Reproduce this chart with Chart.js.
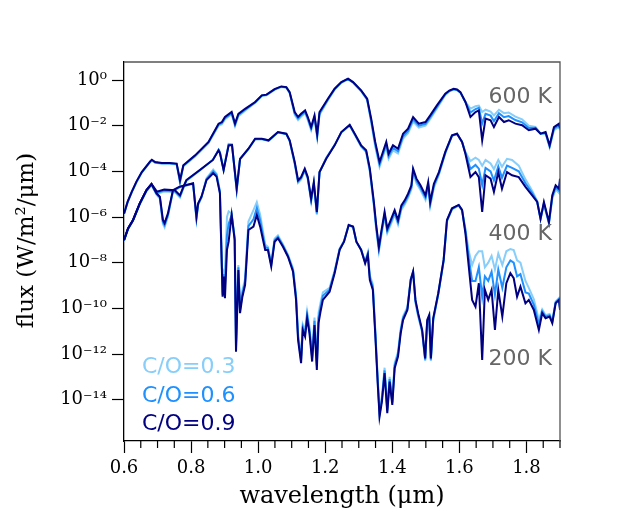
<!DOCTYPE html>
<html lang="en">
<head>
  <meta charset="UTF-8">
  <title>Model spectra</title>
  <script src="https://cdn.jsdelivr.net/npm/chart.js"></script>
  <style>
    body { margin: 0; background: #fff; }
    canvas { display: block; }
  </style>
</head>
<body>
  <canvas id="spectraChart" width="623" height="519"></canvas>

  <script>
    // wavelength grids (micron), one per temperature
    const wave600 = [0.600,0.611,0.623,0.637,0.653,0.678,0.683,0.693,0.713,0.736,0.757,0.767,0.777,0.812,0.852,0.882,0.892,0.901,0.921,0.931,0.941,0.961,
      0.991,1.011,1.025,1.049,1.069,1.084,1.094,1.109,1.119,1.128,1.140,1.148,1.158,1.168,1.176,1.183,1.208,1.228,1.248,1.268,
      1.283,1.307,1.325,1.337,1.349,1.362,1.372,1.382,1.389,1.402,1.417,1.432,1.447,1.462,1.479,1.499,1.513,1.533,1.558,1.570,1.583,1.593,
      1.603,1.618,1.633,1.648,1.658,1.668,1.678,1.693,1.703,1.718,1.733,1.747,1.767,1.787,1.807,1.827,1.842,1.857,1.869,1.882,1.897,1.900];
    const wave400 = [0.600,0.612,0.627,0.647,0.667,0.682,0.698,0.720,0.752,0.767,0.777,0.786,0.826,0.865,0.882,0.886,0.897,0.912,0.922,0.936,0.946,
      0.971,0.991,1.011,1.031,1.059,1.084,1.094,1.109,1.119,1.128,1.139,1.148,1.158,1.166,1.175,1.183,1.203,1.228,1.248,1.273,
      1.288,1.307,1.322,1.333,1.345,1.352,1.360,1.367,1.377,1.385,1.397,1.407,1.417,1.427,1.437,1.447,1.457,1.462,1.472,1.484,
      1.499,1.507,1.513,1.524,1.539,1.558,1.578,1.593,1.608,1.618,1.633,1.648,1.658,1.668,1.678,1.693,1.703,1.716,1.727,1.742,
      1.757,1.777,1.797,1.817,1.832,1.842,1.852,1.867,1.877,1.887,1.897,1.900];
    const wave200 = [0.600,0.612,0.627,0.647,0.667,0.682,0.697,0.707,0.716,0.721,0.731,0.746,0.766,0.786,0.806,0.816,0.821,0.831,0.846,0.866,0.876,
      0.886,0.889,0.894,0.898,0.901,0.907,0.912,0.921,0.930,0.934,0.941,0.946,0.953,0.961,0.971,0.986,0.996,1.006,1.021,1.029,
      1.039,1.049,1.059,1.074,1.089,1.104,1.113,1.119,1.128,1.133,1.140,1.146,1.153,1.161,1.168,1.175,1.180,1.186,1.193,1.213,
      1.228,1.243,1.256,1.270,1.283,1.293,1.307,1.319,1.327,1.333,1.342,1.349,1.357,1.362,1.369,1.377,1.385,1.392,1.400,1.407,
      1.417,1.425,1.432,1.445,1.455,1.462,1.469,1.477,1.489,1.498,1.504,1.510,1.515,1.522,1.537,1.553,1.563,1.578,1.598,1.608,
      1.618,1.628,1.638,1.648,1.658,1.668,1.676,1.686,1.696,1.706,1.716,1.728,1.740,1.752,1.762,1.772,1.782,1.797,1.807,1.822,
      1.837,1.847,1.857,1.869,1.877,1.887,1.897,1.900];

    // log10 flux (W/m2/um)
    const logFlux600_co3 = [-5.88,-5.36,-4.93,-4.49,-4.06,-3.60,-3.53,-3.63,-3.67,-3.67,-3.70,-4.50,-3.78,-3.35,-2.76,-2.00,-1.93,-1.72,-1.50,-2.02,-1.58,-1.34,
      -1.00,-0.70,-0.67,-0.43,-0.31,-0.34,-0.57,-1.52,-1.75,-1.60,-1.45,-1.75,-2.20,-1.68,-2.52,-1.52,-0.88,-0.42,-0.12,0.03,
      -0.12,-0.49,-0.87,-1.85,-2.90,-3.80,-3.35,-2.92,-3.45,-3.08,-3.22,-2.56,-2.33,-1.82,-2.08,-2.00,-1.70,-1.24,-0.65,-0.50,-0.42,-0.45,
      -0.56,-0.96,-1.25,-1.15,-1.12,-1.40,-1.30,-1.38,-1.55,-1.30,-1.45,-1.42,-1.60,-1.72,-2.00,-2.05,-2.35,-2.35,-2.95,-2.20,-2.05,-2.20];
    const logFlux600_co6 = [-5.86,-5.34,-4.91,-4.47,-4.04,-3.58,-3.51,-3.61,-3.65,-3.65,-3.68,-4.45,-3.75,-3.32,-2.73,-1.95,-1.88,-1.67,-1.45,-1.96,-1.53,-1.30,
      -0.98,-0.68,-0.65,-0.41,-0.29,-0.32,-0.55,-1.46,-1.68,-1.54,-1.39,-1.68,-2.13,-1.61,-2.46,-1.46,-0.85,-0.40,-0.10,0.05,
      -0.10,-0.47,-0.85,-1.77,-2.80,-3.70,-3.25,-2.82,-3.34,-2.97,-3.12,-2.46,-2.23,-1.72,-2.00,-1.92,-1.63,-1.18,-0.62,-0.48,-0.40,-0.43,
      -0.54,-0.96,-1.42,-1.27,-1.22,-1.90,-1.48,-1.56,-1.80,-1.45,-1.63,-1.58,-1.75,-1.85,-2.10,-2.09,-2.35,-2.32,-2.90,-2.13,-1.98,-2.15];
    const logFlux600_co9 = [-5.85,-5.32,-4.90,-4.45,-4.03,-3.56,-3.49,-3.59,-3.63,-3.63,-3.66,-4.39,-3.73,-3.30,-2.71,-1.91,-1.84,-1.62,-1.40,-1.91,-1.48,-1.26,
      -0.96,-0.67,-0.64,-0.40,-0.28,-0.31,-0.53,-1.40,-1.62,-1.48,-1.33,-1.62,-2.06,-1.55,-2.39,-1.40,-0.82,-0.38,-0.09,0.06,
      -0.09,-0.45,-0.82,-1.69,-2.71,-3.59,-3.15,-2.71,-3.23,-2.86,-3.01,-2.35,-2.13,-1.62,-1.91,-1.84,-1.55,-1.11,-0.60,-0.46,-0.38,-0.41,
      -0.53,-0.96,-1.62,-1.40,-1.33,-2.64,-1.69,-1.76,-2.06,-1.62,-1.84,-1.76,-1.91,-1.98,-2.20,-2.13,-2.35,-2.28,-2.86,-2.06,-1.91,-2.10];

    const logFlux400_co3 = [-7.03,-6.53,-6.16,-5.44,-4.86,-4.60,-4.98,-4.88,-4.91,-5.15,-4.74,-4.42,-3.96,-3.50,-3.05,-3.15,-3.92,-2.80,-2.82,-4.85,-3.48,
      -3.03,-2.60,-2.60,-2.67,-2.30,-2.38,-2.68,-3.68,-4.50,-4.35,-3.98,-4.35,-5.32,-4.57,-5.90,-4.05,-3.40,-2.85,-2.30,-2.00,
      -2.40,-2.92,-3.15,-4.02,-5.50,-6.55,-7.50,-6.85,-5.98,-6.70,-6.27,-5.90,-6.33,-5.68,-5.45,-5.16,-4.78,-4.05,-4.52,-4.82,
      -5.25,-4.68,-5.52,-4.72,-4.15,-3.22,-2.45,-2.36,-2.71,-3.15,-3.55,-3.40,-3.50,-3.75,-3.50,-3.65,-3.90,-3.50,-3.80,-3.45,
      -3.50,-3.75,-4.35,-4.85,-5.30,-6.10,-5.45,-6.30,-5.20,-4.80,-4.95,-4.55];
    const logFlux400_co6 = [-7.02,-6.51,-6.14,-5.42,-4.84,-4.57,-4.93,-4.84,-4.87,-5.10,-4.71,-4.40,-3.95,-3.50,-3.06,-3.17,-3.93,-2.83,-2.83,-4.80,-3.46,
      -3.02,-2.58,-2.58,-2.65,-2.29,-2.36,-2.66,-3.64,-4.45,-4.30,-3.93,-4.30,-5.26,-4.52,-5.84,-4.04,-3.42,-2.85,-2.29,-1.98,
      -2.37,-2.89,-3.12,-3.95,-5.42,-6.45,-7.40,-6.75,-5.88,-6.60,-6.17,-5.80,-6.23,-5.58,-5.36,-5.07,-4.70,-3.96,-4.42,-4.72,
      -5.15,-4.57,-5.43,-4.63,-4.09,-3.18,-2.43,-2.35,-2.71,-3.19,-3.90,-3.72,-3.88,-4.60,-3.85,-4.00,-4.40,-3.78,-4.28,-3.75,
      -3.85,-4.00,-4.52,-4.95,-5.32,-6.08,-5.40,-6.26,-5.12,-4.70,-4.85,-4.44];
    const logFlux400_co9 = [-7.01,-6.50,-6.13,-5.40,-4.82,-4.55,-4.89,-4.80,-4.83,-5.05,-4.68,-4.38,-3.94,-3.50,-3.08,-3.20,-3.95,-2.86,-2.85,-4.76,-3.45,
      -3.01,-2.57,-2.57,-2.64,-2.28,-2.35,-2.64,-3.59,-4.39,-4.25,-3.88,-4.25,-5.20,-4.47,-5.78,-4.03,-3.45,-2.86,-2.28,-1.96,
      -2.35,-2.86,-3.08,-3.88,-5.34,-6.36,-7.31,-6.65,-5.78,-6.51,-6.07,-5.70,-6.14,-5.49,-5.27,-4.98,-4.61,-3.88,-4.32,-4.61,
      -5.05,-4.47,-5.34,-4.54,-4.03,-3.15,-2.42,-2.35,-2.71,-3.23,-4.25,-4.03,-4.25,-5.78,-4.17,-4.32,-4.90,-4.03,-4.76,-4.03,
      -4.17,-4.25,-4.68,-5.05,-5.34,-6.07,-5.34,-6.22,-5.05,-4.61,-4.76,-4.32];

    const logFlux200_co3 = [-7.03,-6.53,-6.16,-5.44,-4.86,-4.60,-5.02,-5.20,-6.30,-6.45,-5.98,-4.88,-4.70,-4.62,-4.55,-6.10,-5.48,-5.15,-4.30,-3.92,-4.10,
      -4.85,-6.50,-9.30,-8.40,-8.50,-6.00,-5.75,-5.85,-6.90,-11.50,-8.10,-9.90,-9.20,-8.70,-6.20,-5.70,-5.35,-5.90,-7.20,-7.30,
      -8.00,-6.95,-6.80,-7.20,-7.65,-8.25,-9.40,-11.10,-12.10,-10.70,-10.95,-10.15,-10.80,-12.00,-10.40,-12.30,-10.20,-9.75,-9.30,-9.10,
      -8.35,-7.38,-7.05,-6.35,-6.45,-7.10,-7.42,-7.95,-7.55,-8.55,-8.95,-10.85,-13.20,-14.50,-13.85,-12.60,-14.35,-13.00,-14.00,-12.40,
      -11.90,-10.90,-10.35,-9.95,-8.70,-8.40,-9.75,-10.35,-11.05,-12.30,-10.65,-10.40,-12.30,-10.55,-9.40,-7.95,-6.20,-5.66,-5.50,-5.72,
      -6.50,-7.50,-8.10,-7.70,-7.50,-7.50,-8.20,-8.00,-7.70,-8.30,-7.60,-8.10,-7.50,-7.40,-7.45,-7.90,-8.00,-8.80,-9.10,-9.60,
      -10.50,-10.05,-10.30,-10.25,-10.55,-9.70,-9.55,-9.95];
    const logFlux200_co6 = [-7.02,-6.51,-6.14,-5.42,-4.84,-4.57,-4.99,-5.15,-6.22,-6.36,-5.91,-4.85,-4.68,-4.61,-4.53,-6.05,-5.44,-5.13,-4.34,-4.00,-4.16,
      -4.90,-6.60,-9.40,-8.50,-9.00,-6.80,-6.30,-5.90,-6.95,-11.70,-8.20,-10.05,-9.35,-8.85,-6.40,-6.10,-5.60,-6.15,-7.32,-7.37,
      -8.08,-7.02,-6.87,-7.25,-7.70,-8.32,-9.50,-11.25,-12.25,-10.82,-11.10,-10.29,-10.95,-12.15,-10.55,-12.50,-10.42,-9.95,-9.45,-9.18,
      -8.40,-7.41,-7.07,-6.35,-6.43,-7.09,-7.43,-7.99,-7.60,-8.65,-9.07,-10.97,-13.30,-14.62,-13.97,-12.72,-14.47,-13.10,-14.12,-12.50,
      -12.00,-11.00,-10.43,-10.01,-8.73,-8.39,-9.69,-10.28,-11.00,-12.25,-10.58,-10.35,-12.25,-10.49,-9.37,-7.91,-6.16,-5.64,-5.48,-5.70,
      -6.60,-7.80,-8.80,-8.80,-8.20,-9.50,-8.60,-8.80,-8.40,-9.40,-8.30,-9.10,-8.20,-7.90,-8.00,-8.60,-8.50,-9.30,-9.35,-9.85,
      -10.70,-10.13,-10.37,-10.30,-10.60,-9.74,-9.59,-10.01];
    const logFlux200_co9 = [-7.01,-6.50,-6.13,-5.40,-4.82,-4.55,-4.96,-5.11,-6.13,-6.27,-5.84,-4.82,-4.67,-4.60,-4.52,-5.99,-5.40,-5.11,-4.38,-4.08,-4.23,
      -4.96,-6.71,-9.49,-8.61,-9.56,-7.44,-7.08,-5.91,-7.01,-11.90,-8.32,-10.21,-9.49,-8.98,-6.57,-6.42,-5.91,-6.42,-7.44,-7.44,
      -8.17,-7.08,-6.93,-7.30,-7.74,-8.39,-9.63,-11.38,-12.40,-10.95,-11.24,-10.43,-11.09,-12.33,-10.73,-12.70,-10.65,-10.14,-9.63,-9.27,
      -8.46,-7.44,-7.08,-6.35,-6.42,-7.08,-7.44,-8.03,-7.66,-8.76,-9.19,-11.09,-13.43,-14.74,-14.09,-12.84,-14.59,-13.21,-14.23,-12.62,
      -12.11,-11.09,-10.51,-10.07,-8.76,-8.39,-9.63,-10.21,-10.95,-12.19,-10.51,-10.29,-12.19,-10.43,-9.34,-7.88,-6.13,-5.62,-5.47,-5.69,
      -6.71,-8.17,-9.63,-9.93,-8.90,-12.26,-9.19,-9.63,-9.19,-10.95,-9.19,-10.36,-8.90,-8.46,-8.68,-9.49,-9.05,-9.78,-9.63,-10.07,
      -10.95,-10.21,-10.43,-10.36,-10.65,-9.78,-9.63,-10.07];

    const xTicks = [0.6, 0.8, 1.0, 1.2, 1.4, 1.6, 1.8];
    const yTickPowers = [-14, -12, -10, -8, -6, -4, -2, 0];
    const ratioLabels = ['C/O=0.3', 'C/O=0.6', 'C/O=0.9'];
    const tempLabels = ['600 K', '400 K', '200 K'];

    const ratioColors = ['#87cefa', '#1e90ff', '#000080'];
    const SERIF = "'DejaVu Serif', serif";
    const SANS = "'DejaVu Sans', sans-serif";

    const SUP = {'-': '\u207B', '0': '\u2070', '1': '\u00B9', '2': '\u00B2', '3': '\u00B3', '4': '\u2074',
                 '5': '\u2075', '6': '\u2076', '7': '\u2077', '8': '\u2078', '9': '\u2079'};
    function powerLabel(v) {
      const p = Math.round(Math.log10(v));
      return '10' + String(p).split('').map(c => SUP[c]).join('');
    }

    function series(wave, logs, co, temp) {
      return {
        label: temp + ' ' + ratioLabels[co],
        data: wave.map((w, i) => ({x: w, y: Math.pow(10, logs[i])})),
        borderColor: ratioColors[co],
        borderWidth: 2,
        pointRadius: 0,
        tension: 0,
        order: 2 - co // darkest line drawn on top
      };
    }

    const datasets = [
      series(wave600, logFlux600_co3, 0, tempLabels[0]),
      series(wave600, logFlux600_co6, 1, tempLabels[0]),
      series(wave600, logFlux600_co9, 2, tempLabels[0]),
      series(wave400, logFlux400_co3, 0, tempLabels[1]),
      series(wave400, logFlux400_co6, 1, tempLabels[1]),
      series(wave400, logFlux400_co9, 2, tempLabels[1]),
      series(wave200, logFlux200_co3, 0, tempLabels[2]),
      series(wave200, logFlux200_co6, 1, tempLabels[2]),
      series(wave200, logFlux200_co9, 2, tempLabels[2])
    ];

    // spines, minor ticks, y label and the text labels
    const extras = {
      id: 'extras',
      afterDraw(chart) {
        const {ctx, chartArea: a, scales} = chart;
        ctx.save();

        ctx.strokeStyle = '#555';
        ctx.lineWidth = 1.3;
        ctx.beginPath();
        ctx.moveTo(a.left, a.top);
        ctx.lineTo(a.right, a.top);
        ctx.lineTo(a.right, a.bottom);
        ctx.stroke();

        ctx.strokeStyle = '#000';
        ctx.lineWidth = 1.2;
        for (let i = 13; i <= 38; i++) {
          if (i % 4 === 0) continue;
          const px = scales.x.getPixelForValue(i * 0.05);
          ctx.beginPath();
          ctx.moveTo(px, a.bottom);
          ctx.lineTo(px, a.bottom + 7);
          ctx.stroke();
        }

        ctx.fillStyle = '#000';
        ctx.font = '23px ' + SERIF;
        ctx.textAlign = 'center';
        ctx.textBaseline = 'middle';
        ctx.translate(27, (a.top + a.bottom) / 2 - 11);
        ctx.rotate(-Math.PI / 2);
        ctx.fillText('flux (W/m\u00B2/\u03BCm)', 0, 0);
        ctx.setTransform(1, 0, 0, 1, 0, 0);

        ctx.font = '22px ' + SANS;
        ctx.textBaseline = 'alphabetic';
        ctx.textAlign = 'right';
        ctx.fillStyle = '#666';
        ctx.fillText(tempLabels[0], a.right - 8, a.top + 41);
        ctx.fillText(tempLabels[1], a.right - 8, a.top + 178);
        ctx.fillText(tempLabels[2], a.right - 8, a.top + 303);

        ctx.textAlign = 'left';
        ratioLabels.forEach((txt, k) => {
          ctx.fillStyle = ratioColors[k];
          ctx.fillText(txt, a.left + 18, a.top + 311 + k * 28.5);
        });
        ctx.restore();
      }
    };

    new Chart(document.getElementById('spectraChart').getContext('2d'), {
      type: 'line',
      data: { datasets: datasets },
      plugins: [extras],
      options: {
        responsive: false,
        animation: false,
        devicePixelRatio: 1,
        layout: { padding: { top: 62, right: 63, left: 0, bottom: 0 } },
        plugins: {
          legend: { display: false },
          tooltip: { enabled: false }
        },
        scales: {
          x: {
            type: 'linear',
            min: 0.6,
            max: 1.9,
            afterFit: s => { s.height = 78; },
            afterBuildTicks: s => { s.ticks = xTicks.map(v => ({value: v})); },
            ticks: {
              callback: v => Number(v).toFixed(1),
              font: { family: SERIF, size: 18 },
              color: '#000',
              padding: 5,
              maxRotation: 0
            },
            grid: { drawOnChartArea: false, tickLength: 12, tickWidth: 1.2, color: '#000' },
            border: { color: '#000', width: 1.3 },
            title: {
              display: true,
              text: 'wavelength (\u03BCm)',
              font: { family: SERIF, size: 24 },
              color: '#000',
              padding: { top: 0, bottom: 8 }
            }
          },
          y: {
            type: 'logarithmic',
            min: Math.pow(10, -15.81),
            max: Math.pow(10, 0.79),
            afterFit: s => { s.width = 124; },
            afterBuildTicks: s => { s.ticks = yTickPowers.map(p => ({value: Math.pow(10, p)})); },
            ticks: {
              callback: v => powerLabel(v),
              font: { family: SERIF, size: 18 },
              color: '#000',
              padding: 5
            },
            grid: { drawOnChartArea: false, tickLength: 12, tickWidth: 1.2, color: '#000' },
            border: { color: '#000', width: 1.3 }
          }
        }
      }
    });
  </script>
</body>
</html>
